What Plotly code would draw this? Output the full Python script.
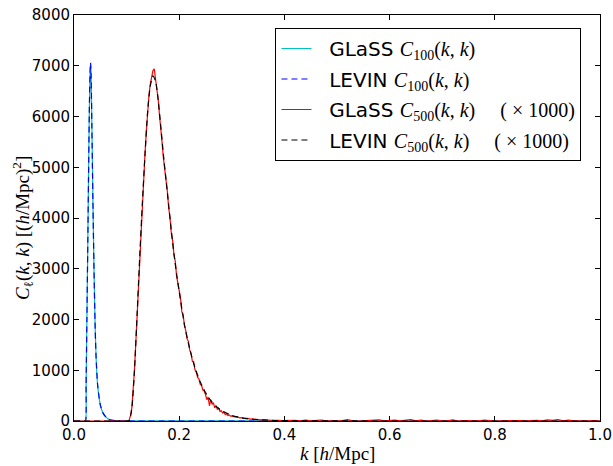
import plotly.graph_objects as go

# C_100(k,k): smooth low-multipole kernel
k_100 = [0.0, 0.0200, 0.0220, 0.0230, 0.0245, 0.0260, 0.0275, 0.0290, 0.0305, 0.0315,
         0.0325, 0.0340, 0.0360, 0.0380, 0.0400, 0.0420, 0.0450, 0.0500, 0.0550,
         0.0600, 0.0650, 0.0700, 0.0800, 0.0900, 1.0]
c100_glass = [0, 0, 0, 700, 2000, 3300, 4700, 6000, 6850, 7040,
              6800, 5800, 4300, 3000, 1950, 1250, 700, 320, 160,
              85, 40, 18, 4, 1, 0]
c100_levin = [0, 0, 0, 700, 2000, 3300, 4700, 6000, 6860, 7060,
              6800, 5800, 4300, 3000, 1950, 1250, 700, 320, 160,
              85, 40, 18, 4, 1, 0]

# C_500(k,k) x 1000, LEVIN (smooth)
k_500_levin = [0.0, 0.100, 0.105, 0.110, 0.115, 0.120, 0.125, 0.130, 0.135, 0.140,
               0.145, 0.150, 0.155, 0.160, 0.165, 0.170, 0.175, 0.180, 0.185,
               0.190, 0.195, 0.200, 0.210, 0.220, 0.230, 0.240, 0.250, 0.260,
               0.270, 0.280, 0.300, 0.320, 0.350, 0.380, 0.420, 0.500, 1.000]
c500_levin = [0, 0, 10, 250, 1000, 2100, 3250, 4300, 5250, 6100,
              6600, 6800, 6700, 6330, 5800, 5250, 4750, 4250, 3750,
              3300, 2900, 2550, 1900, 1420, 1050, 770, 560, 400,
              290, 210, 110, 58, 24, 10, 4, 1, 0]

# C_500(k,k) x 1000, GLaSS (noisy)
k_500_glass = [0.0, 0.1000, 0.1025, 0.1050, 0.1075, 0.1100, 0.1125, 0.1150, 0.1175, 0.1200,
               0.1225, 0.1250, 0.1275, 0.1300, 0.1325, 0.1350, 0.1375, 0.1400, 0.1425,
               0.1450, 0.1475, 0.1500, 0.1525, 0.1550, 0.1575, 0.1600, 0.1625, 0.1650,
               0.1675, 0.1700, 0.1725, 0.1750, 0.1775, 0.1800, 0.1825, 0.1850, 0.1875,
               0.1900, 0.1925, 0.1950, 0.1975, 0.2000, 0.2025, 0.2050, 0.2075, 0.2100,
               0.2125, 0.2150, 0.2175, 0.2200, 0.2225, 0.2250, 0.2275, 0.2300, 0.2325,
               0.2350, 0.2375, 0.2400, 0.2425, 0.2450, 0.2475, 0.2500, 0.2525, 0.2550,
               0.2575, 0.2600, 0.2625, 0.2650, 0.2675, 0.2700, 0.2725, 0.2750, 0.2775,
               0.2800, 0.2825, 0.2850, 0.2875, 0.2900, 0.2925, 0.2950, 0.2975, 0.3000,
               0.305, 0.310, 0.315, 0.320, 0.325, 0.330, 0.335, 0.340, 0.345, 0.350,
               0.355, 0.360, 0.365, 0.370, 0.375, 0.380, 0.385, 0.390, 0.395, 0.400,
               0.41, 0.42, 0.43, 0.44, 0.45, 0.46, 0.47, 0.48, 0.49, 0.50,
               0.51, 0.52, 0.53, 0.54, 0.55, 0.56, 0.57, 0.58, 0.59, 0.60,
               0.61, 0.62, 0.63, 0.64, 0.65, 0.66, 0.67, 0.68, 0.69, 0.70,
               0.71, 0.72, 0.73, 0.74, 0.75, 0.76, 0.77, 0.78, 0.79, 0.80,
               0.81, 0.82, 0.83, 0.84, 0.85, 0.86, 0.87, 0.88, 0.89, 0.90,
               0.91, 0.92, 0.93, 0.94, 0.95, 0.96, 0.97, 0.98, 0.99, 1.00]
c500_glass = [0, 0, 0, 20, 110, 260, 560, 1010, 1540, 2110,
              2680, 3260, 3800, 4310, 4790, 5270, 5700, 6140, 6420,
              6640, 6790, 6900, 6940, 6740, 6560, 6340, 6030, 5800,
              5480, 5180, 4980, 4700, 4520, 4200, 4010, 3700, 3560,
              3280, 3150, 2860, 2690, 2500, 2420, 2150, 2090, 1880,
              1780, 1620, 1570, 1400, 1330, 1180, 1160, 1010, 960,
              860, 830, 720, 700, 610, 590, 520, 420, 470,
              300, 420, 330, 360, 260, 300, 230, 250, 190,
              200, 160, 175, 130, 140, 110, 120, 95, 100,
              80, 85, 60, 65, 50, 52, 38, 40, 30, 33,
              22, 26, 16, 20, 12, 15, 8, 12, 6, 9,
              5, 12, 3, 18, 2, 7, 20, 1, 6, 0,
              9, 25, 2, 0, 8, 3, 14, 22, 1, 5,
              18, 4, 12, 25, 3, 16, 0, 9, 20, 4,
              2, 22, 0, 6, 3, 11, 1, 20, 5, 0,
              4, 8, 0, 2, 10, 1, 6, 15, 3, 22,
              12, 25, 5, 18, 2, 0, 7, 3, 9, 0]

x_ticks = [0, 0.2, 0.4, 0.6, 0.8, 1.0]
x_ticklabels = ["0.0", "0.2", "0.4", "0.6", "0.8", "1.0"]
y_ticks = [0, 1000, 2000, 3000, 4000, 5000, 6000, 7000, 8000]

serif = "Liberation Serif"
sans = "DejaVu Sans"


def math(s, size=20):
    return f"<span style='font-family:{serif};font-size:{size}px'>{s}</span>"


lead = "&nbsp;" * 2
sp = "&nbsp;" * 5
names = [
    lead + "GLaSS " + math("<i>C</i><sub>100</sub>(<i>k</i>, <i>k</i>)"),
    lead + "LEVIN " + math("<i>C</i><sub>100</sub>(<i>k</i>, <i>k</i>)"),
    lead + "GLaSS " + math(f"<i>C</i><sub>500</sub>(<i>k</i>, <i>k</i>){sp}( × 1000)"),
    lead + "LEVIN " + math(f"<i>C</i><sub>500</sub>(<i>k</i>, <i>k</i>){sp}( × 1000)"),
]

fig = go.Figure()
fig.add_trace(go.Scatter(x=k_100, y=c100_glass, mode="lines", name=names[0], legendgroup="a",
                         line=dict(color="#00BFBF", width=1.2, shape="spline", smoothing=0.6)))
fig.add_trace(go.Scatter(x=k_100, y=c100_levin, mode="lines", name=names[1], legendgroup="b",
                         line=dict(color="#0000FF", width=1.2, dash="6px,4px", shape="spline", smoothing=0.6)))
fig.add_trace(go.Scatter(x=k_500_glass, y=c500_glass, mode="lines", name=names[2], legendgroup="c",
                         line=dict(color="#FF0000", width=1.2)))
fig.add_trace(go.Scatter(x=k_500_levin, y=c500_levin, mode="lines", name=names[3], legendgroup="d",
                         line=dict(color="#000000", width=1.2, dash="6px,4px", shape="spline", smoothing=0.6)))

axis_common = dict(showline=True, linecolor="black", linewidth=1, mirror="ticks",
                   ticks="inside", ticklen=5, tickcolor="black", showgrid=False,
                   zeroline=False, automargin=False,
                   tickfont=dict(family=sans, size=15, color="black"))

fig.update_layout(
    width=613, height=466,
    margin=dict(l=74, r=13, t=15, b=45),
    paper_bgcolor="white", plot_bgcolor="white",
    xaxis=dict(range=[0, 1.0], tickvals=x_ticks, ticktext=x_ticklabels, **axis_common),
    yaxis=dict(range=[0, 8000], tickvals=y_ticks, **axis_common),
    legend=dict(x=0.383, y=0.968, xanchor="left", yanchor="top",
                bordercolor="black", borderwidth=1, bgcolor="white",
                font=dict(family=sans, size=20, color="black"),
                itemwidth=30, tracegroupgap=1.5),
    showlegend=True,
    annotations=[
        dict(text="<i>k</i> [<i>h</i>/Mpc]", xref="paper", yref="paper",
             x=0.5, y=-0.079, xanchor="center", yanchor="middle", showarrow=False,
             font=dict(family=serif, size=19, color="black")),
        dict(text="<i>C</i><sub>ℓ</sub>(<i>k</i>, <i>k</i>) [(<i>h</i>/Mpc)<sup>2</sup>]",
             xref="paper", yref="paper", x=-0.099, y=0.475, textangle=-90,
             xanchor="center", yanchor="middle", showarrow=False,
             font=dict(family=serif, size=19, color="black")),
    ],
)

fig.write_html("out.html")
